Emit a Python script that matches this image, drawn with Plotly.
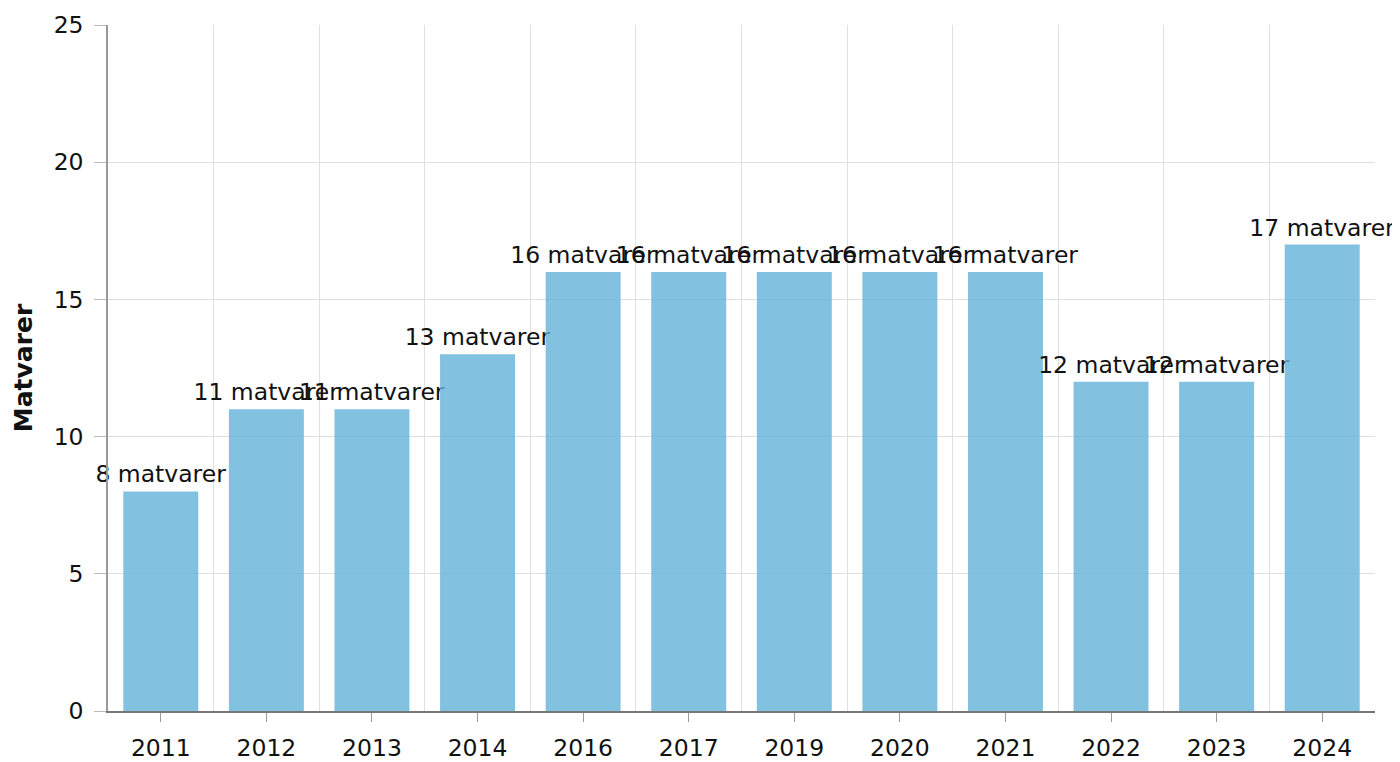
import plotly.graph_objects as go

years = ["2011", "2012", "2013", "2014", "2016", "2017", "2019", "2020", "2021", "2022", "2023", "2024"]
values = [8, 11, 11, 13, 16, 16, 16, 16, 16, 12, 12, 17]
labels = [f"{v} matvarer" for v in values]

pos = list(range(len(years)))
bounds = [p - 0.5 for p in pos] + [pos[-1] + 0.5]

FONT = "DejaVu Sans, Verdana, sans-serif"

fig = go.Figure(
    go.Bar(
        x=pos,
        y=values,
        text=labels,
        textposition="outside",
        constraintext="none",
        cliponaxis=False,
        width=0.71,
        marker=dict(color="rgba(100,178,216,0.8)", line=dict(width=0)),
        textfont=dict(family=FONT, size=23.5, color="#111111"),
        hoverinfo="x+y",
    )
)

fig.update_layout(
    width=1400,
    height=762,
    margin=dict(l=100, r=33, t=17, b=59, autoexpand=False),
    plot_bgcolor="white",
    paper_bgcolor="white",
    font=dict(family=FONT, size=23, color="#111111"),
    showlegend=False,
)

fig.update_xaxes(
    range=[-0.5, len(years) - 0.5],
    tickvals=pos,
    ticktext=years,
    showgrid=False,
    ticks="outside",
    ticklen=9,
    tickcolor="#999999",
    ticklabelstandoff=6,
    showline=True,
    linecolor="#777777",
    linewidth=1.5,
    zeroline=False,
    minor=dict(tickvals=bounds, showgrid=True, gridcolor="#e0e0e0", gridwidth=1, ticks=""),
    tickfont=dict(size=23.5),
)

fig.update_yaxes(
    range=[0, 25],
    tickvals=[0, 5, 10, 15, 20, 25],
    showgrid=True,
    gridcolor="#e0e0e0",
    gridwidth=1,
    ticks="outside",
    ticklen=12,
    tickcolor="#bbbbbb",
    ticklabelstandoff=6,
    showline=True,
    linecolor="#999999",
    linewidth=1.5,
    zeroline=False,
    title=dict(text="<b>Matvarer</b>", font=dict(size=25), standoff=14),
    tickfont=dict(size=23.5),
)

fig.write_html("out.html")
